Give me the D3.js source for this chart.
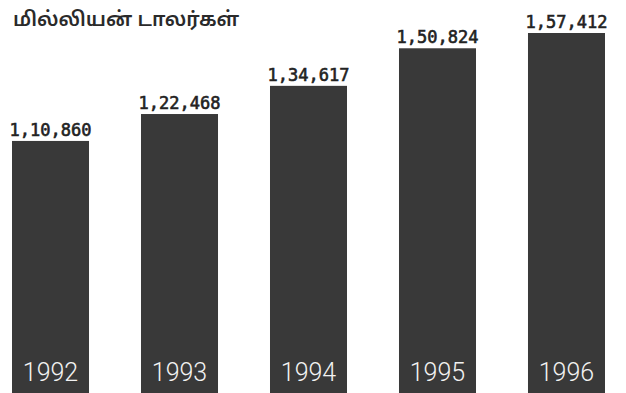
<!DOCTYPE html>
<html>
<head>
<meta charset="utf-8">
<script src="https://cdn.jsdelivr.net/npm/d3@7"></script>
<style>
  html, body { margin: 0; padding: 0; background: #ffffff; }
  svg { display: block; }
</style>
</head>
<body>
<svg id="chart" width="626" height="393"></svg>
<script>
// Annual totals in million dollars
const years = ["1992", "1993", "1994", "1995", "1996"];
const values = [110860, 122468, 134617, 150824, 157412];
const valueLabels = ["1,10,860", "1,22,468", "1,34,617", "1,50,824", "1,57,412"];
const unitTitle = "மில்லியன் டாலர்கள்";

const width = 626, height = 393;
const svg = d3.select("#chart");

const x = d3.scaleBand()
  .domain(years)
  .range([12, 605])
  .paddingInner(0.403)
  .paddingOuter(0);

const y = d3.scaleLinear()
  .domain([0, 160000])
  .range([398, 27]);

const data = years.map((yr, i) => ({ year: yr, value: values[i], label: valueLabels[i] }));

// Bars
svg.append("g")
  .selectAll("rect")
  .data(data)
  .join("rect")
  .attr("x", d => x(d.year))
  .attr("y", d => y(d.value))
  .attr("width", x.bandwidth())
  .attr("height", d => y(0) - y(d.value))
  .attr("fill", "#393939");

// Value labels above each bar
svg.append("g")
  .selectAll("text")
  .data(data)
  .join("text")
  .attr("x", d => x(d.year) + x.bandwidth() / 2)
  .attr("y", d => y(d.value) - 5)
  .attr("text-anchor", "middle")
  .attr("font-family", "'DejaVu Sans Mono', monospace")
  .attr("font-size", 17)
  .attr("fill", "#222222")
  .attr("stroke", "#222222")
  .attr("stroke-width", 0.6)
  .text(d => d.label);

// Year labels inside the bars
svg.append("g")
  .selectAll("text")
  .data(data)
  .join("text")
  .attr("x", d => x(d.year) + x.bandwidth() / 2)
  .attr("y", 381)
  .attr("text-anchor", "middle")
  .attr("font-family", "Roboto, 'Liberation Sans', sans-serif")
  .attr("font-weight", 300)
  .attr("font-size", 25)
  .attr("fill", "#f2f2f2")
  .text(d => d.year);

// Unit title
svg.append("text")
  .attr("x", 13)
  .attr("y", 26)
  .attr("font-family", "'Noto Sans Tamil', 'Noto Sans', sans-serif")
  .attr("font-weight", 600)
  .attr("font-size", 20)
  .attr("fill", "#2a2a2a")
  .text(unitTitle);
</script>
</body>
</html>
